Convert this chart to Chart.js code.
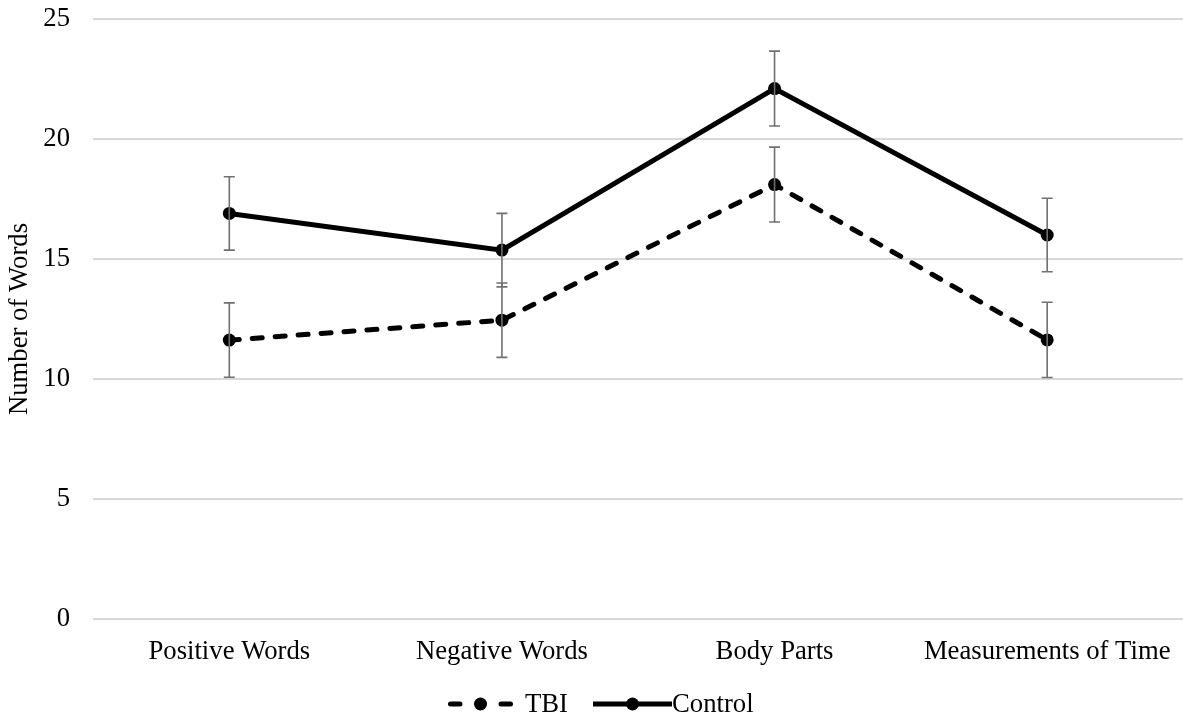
<!DOCTYPE html>
<html>
<head>
<meta charset="utf-8">
<script src="https://cdn.jsdelivr.net/npm/chart.js@4/dist/chart.umd.min.js"></script>
<style>
  html, body { margin: 0; padding: 0; background: #fff; overflow: hidden; }
  #wrap { width: 1190px; height: 719px; position: relative; }
</style>
</head>
<body>
<div id="wrap"><canvas id="chart"></canvas></div>
<script>
const categories = ['Positive Words', 'Negative Words', 'Body Parts', 'Measurements of Time'];
const tbiValues = [11.62, 12.45, 18.1, 11.63];
const controlValues = [16.9, 15.37, 22.1, 16.0];
const tbiErrors = [1.55, 1.55, 1.56, 1.57];
const controlErrors = [1.53, 1.53, 1.56, 1.53];
const yTicks = [0, 5, 10, 15, 20, 25];

const FONT = "'Liberation Serif', 'Times New Roman', serif";
const FSIZE = 26.7;
const ERR_COLOR = '#707070';

// error bars drawn from the error arrays via the y scale
const errorBars = {
    id: 'errorBars',
    afterDatasetsDraw(chart) {
        const ctx = chart.ctx;
        const y = chart.scales.y;
        ctx.save();
        ctx.strokeStyle = ERR_COLOR;
        ctx.lineWidth = 1.6;
        chart.data.datasets.forEach((ds, di) => {
            const meta = chart.getDatasetMeta(di);
            meta.data.forEach((pt, i) => {
                const v = ds.data[i];
                const e = ds.errors[i];
                const top = y.getPixelForValue(v + e);
                const bot = y.getPixelForValue(v - e);
                ctx.beginPath();
                ctx.moveTo(pt.x, top); ctx.lineTo(pt.x, bot);
                ctx.moveTo(pt.x - 5.5, top); ctx.lineTo(pt.x + 5.5, top);
                ctx.moveTo(pt.x - 5.5, bot); ctx.lineTo(pt.x + 5.5, bot);
                ctx.stroke();
            });
        });
        ctx.restore();
    }
};

// legend like the office one: line sample with a marker, then the label
const lineLegend = {
    id: 'lineLegend',
    afterDraw(chart) {
        const ctx = chart.ctx;
        const cy = 704;
        const cx = chart.width / 2;
        const items = [
            { ds: chart.data.datasets[0], x0: cx - 147, x1: cx - 82, tx: cx - 70 },
            { ds: chart.data.datasets[1], x0: cx - 2, x1: cx + 77, tx: cx + 77 }
        ];
        ctx.save();
        ctx.font = FSIZE + 'px ' + FONT;
        ctx.textBaseline = 'middle';
        ctx.fillStyle = '#000';
        items.forEach(it => {
            const dashed = it.ds.borderDash.length > 0;
            ctx.strokeStyle = '#000';
            ctx.lineWidth = 5;
            ctx.beginPath();
            if (dashed) {
                ctx.lineCap = 'round';
                ctx.moveTo(it.x0 + 2.5, cy); ctx.lineTo(it.x0 + 12, cy);
                ctx.moveTo(it.x1 - 12, cy); ctx.lineTo(it.x1 - 2.5, cy);
            } else {
                ctx.lineCap = 'butt';
                ctx.moveTo(it.x0, cy); ctx.lineTo(it.x1, cy);
            }
            ctx.stroke();
            ctx.beginPath();
            ctx.arc((it.x0 + it.x1) / 2, cy, 6.5, 0, Math.PI * 2);
            ctx.fill();
            ctx.fillText(it.ds.label, it.tx, cy + 1);
        });
        ctx.restore();
    }
};

new Chart(document.getElementById('chart'), {
    type: 'line',
    data: {
        labels: categories,
        datasets: [
            {
                label: 'TBI',
                data: tbiValues,
                errors: tbiErrors,
                borderColor: '#000',
                backgroundColor: '#000',
                borderWidth: 5,
                borderDash: [10, 13],
                borderCapStyle: 'round',
                pointRadius: 6.5,
                pointBorderWidth: 0,
                pointHoverRadius: 6.5,
                tension: 0
            },
            {
                label: 'Control',
                data: controlValues,
                errors: controlErrors,
                borderColor: '#000',
                backgroundColor: '#000',
                borderWidth: 5,
                borderDash: [],
                pointRadius: 6.5,
                pointBorderWidth: 0,
                pointHoverRadius: 6.5,
                tension: 0
            }
        ]
    },
    options: {
        responsive: true,
        maintainAspectRatio: false,
        animation: false,
        layout: { padding: { top: 19, right: 0, bottom: 0, left: 0 } },
        plugins: {
            legend: { display: false },
            tooltip: { enabled: false }
        },
        scales: {
            x: {
                offset: true,
                grid: { display: false, drawTicks: false },
                border: { display: false },
                ticks: { color: '#000', font: { family: FONT, size: FSIZE }, padding: 17, maxRotation: 0 },
                afterFit: (scale) => { scale.height = 100; scale.paddingLeft = 0; scale.paddingRight = 0; }
            },
            y: {
                min: 0,
                max: 25,
                afterBuildTicks: (scale) => { scale.ticks = yTicks.map(v => ({ value: v })); },
                grid: { color: '#d9d9d9', lineWidth: 2, drawTicks: false },
                border: { display: false },
                ticks: { color: '#000', font: { family: FONT, size: FSIZE }, padding: 23 },
                title: {
                    display: true,
                    text: 'Number of Words',
                    color: '#000',
                    font: { family: FONT, size: FSIZE },
                    padding: { top: 4, bottom: 0 }
                },
                afterFit: (scale) => { scale.width = 93; scale.paddingTop = 0; scale.paddingBottom = 0; }
            }
        }
    },
    plugins: [errorBars, lineLegend]
});
</script>
</body>
</html>
